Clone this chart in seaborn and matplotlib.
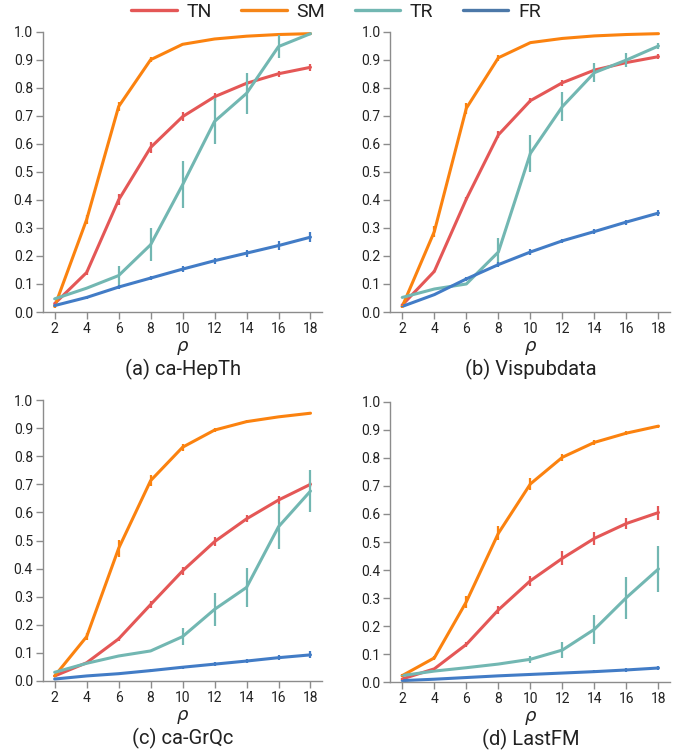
import numpy as np
import pandas as pd
import matplotlib
matplotlib.use("Agg")
import matplotlib.pyplot as plt
from matplotlib.lines import Line2D
import seaborn as sns

sns.set_theme(style="white")
plt.rcParams['font.family'] = ['Roboto', 'DejaVu Sans']

rho = [2, 4, 6, 8, 10, 12, 14, 16, 18]
methods = ["TN", "SM", "TR", "FR"]
colors = {"TN": "#e45756", "SM": "#fb820f", "TR": "#72b7b2", "FR": "#427cc6"}
legend_colors = {"TN": "#e45756", "SM": "#f58518", "TR": "#72b7b2", "FR": "#4c78a8"}
titles = ["(a) ca-HepTh", "(b) Vispubdata", "(c) ca-GrQc", "(d) LastFM"]
xlabel = "ρ"

# panel (a) ca-HepTh
a_TN = [0.03, 0.141, 0.40, 0.587, 0.697, 0.768, 0.816, 0.85, 0.873]
a_TN_err = [0.005, 0.008, 0.02, 0.02, 0.015, 0.015, 0.008, 0.01, 0.012]
a_SM = [0.02, 0.33, 0.733, 0.90, 0.955, 0.974, 0.984, 0.99, 0.993]
a_SM_err = [0.005, 0.015, 0.015, 0.008, 0.004, 0.003, 0.003, 0.002, 0.002]
a_TR = [0.047, 0.085, 0.13, 0.24, 0.454, 0.68, 0.78, 0.947, 0.993]
a_TR_err = [0.003, 0.003, 0.033, 0.058, 0.083, 0.082, 0.072, 0.04, 0.003]
a_FR = [0.023, 0.052, 0.089, 0.121, 0.153, 0.183, 0.21, 0.237, 0.267]
a_FR_err = [0.004, 0.004, 0.006, 0.008, 0.01, 0.01, 0.012, 0.015, 0.018]

# panel (b) Vispubdata
b_TN = [0.025, 0.145, 0.403, 0.632, 0.754, 0.818, 0.863, 0.89, 0.911]
b_TN_err = [0.004, 0.005, 0.008, 0.012, 0.01, 0.01, 0.006, 0.006, 0.008]
b_SM = [0.02, 0.287, 0.727, 0.907, 0.961, 0.976, 0.985, 0.99, 0.993]
b_SM_err = [0.004, 0.02, 0.02, 0.01, 0.004, 0.003, 0.002, 0.002, 0.002]
b_TR = [0.052, 0.082, 0.10, 0.214, 0.566, 0.733, 0.854, 0.899, 0.949]
b_TR_err = [0.003, 0.003, 0.004, 0.05, 0.066, 0.053, 0.035, 0.025, 0.012]
b_FR = [0.02, 0.062, 0.118, 0.169, 0.214, 0.254, 0.287, 0.321, 0.353]
b_FR_err = [0.003, 0.004, 0.008, 0.008, 0.01, 0.008, 0.008, 0.009, 0.012]

# panel (c) ca-GrQc
c_TN = [0.018, 0.065, 0.15, 0.272, 0.392, 0.496, 0.577, 0.644, 0.70]
c_TN_err = [0.004, 0.004, 0.008, 0.012, 0.015, 0.015, 0.012, 0.015, 0.008]
c_SM = [0.018, 0.158, 0.472, 0.713, 0.832, 0.893, 0.923, 0.94, 0.953]
c_SM_err = [0.004, 0.012, 0.03, 0.02, 0.012, 0.008, 0.005, 0.004, 0.004]
c_TR = [0.031, 0.063, 0.089, 0.107, 0.158, 0.255, 0.333, 0.549, 0.676]
c_TR_err = [0.003, 0.003, 0.003, 0.003, 0.03, 0.058, 0.07, 0.08, 0.075]
c_FR = [0.007, 0.018, 0.026, 0.037, 0.049, 0.06, 0.071, 0.083, 0.093]
c_FR_err = [0.002, 0.003, 0.003, 0.005, 0.006, 0.007, 0.008, 0.01, 0.012]

# panel (d) LastFM
d_TN = [0.012, 0.048, 0.135, 0.258, 0.362, 0.442, 0.513, 0.566, 0.605]
d_TN_err = [0.003, 0.004, 0.01, 0.015, 0.018, 0.025, 0.022, 0.02, 0.025]
d_SM = [0.024, 0.087, 0.287, 0.531, 0.707, 0.802, 0.855, 0.888, 0.913]
d_SM_err = [0.004, 0.006, 0.022, 0.025, 0.02, 0.012, 0.008, 0.006, 0.005]
d_TR = [0.024, 0.04, 0.052, 0.065, 0.082, 0.115, 0.189, 0.302, 0.404]
d_TR_err = [0.002, 0.002, 0.002, 0.003, 0.012, 0.03, 0.052, 0.075, 0.082]
d_FR = [0.006, 0.011, 0.017, 0.023, 0.028, 0.033, 0.038, 0.044, 0.051]
d_FR_err = [0.002, 0.002, 0.002, 0.003, 0.004, 0.004, 0.005, 0.006, 0.007]

panels = [
    {"TN": (a_TN, a_TN_err), "SM": (a_SM, a_SM_err), "TR": (a_TR, a_TR_err), "FR": (a_FR, a_FR_err)},
    {"TN": (b_TN, b_TN_err), "SM": (b_SM, b_SM_err), "TR": (b_TR, b_TR_err), "FR": (b_FR, b_FR_err)},
    {"TN": (c_TN, c_TN_err), "SM": (c_SM, c_SM_err), "TR": (c_TR, c_TR_err), "FR": (c_FR, c_FR_err)},
    {"TN": (d_TN, d_TN_err), "SM": (d_SM, d_SM_err), "TR": (d_TR, d_TR_err), "FR": (d_FR, d_FR_err)},
]

W, H = 694, 751
fig = plt.figure(figsize=(W / 100, H / 100), dpi=100)

# axes boxes in pixels: left, top, right, bottom
boxes = [(42.7, 31.7, 322, 312), (390.3, 31.7, 670, 312),
         (42.7, 400, 322, 681), (390.3, 401.7, 670, 682.3)]

axis_gray = "#8c8c8c"
text_col = "#222222"

for i, (box, pdata, title) in enumerate(zip(boxes, panels, titles)):
    l, t, r, b = box
    ax = fig.add_axes([l / W, 1 - b / H, (r - l) / W, (b - t) / H])
    rows = []
    for m in methods:
        vals, errs = pdata[m]
        for x, v, e in zip(rho, vals, errs):
            rows.append({"rho": x, "value": v, "err": e, "method": m})
    df = pd.DataFrame(rows)
    sns.lineplot(data=df, x="rho", y="value", hue="method", hue_order=methods,
                 palette=colors, linewidth=2.2, legend=False, ax=ax, errorbar=None)
    for m in methods:
        sub = df[df.method == m]
        ax.vlines(sub.rho, sub.value - sub.err, sub.value + sub.err,
                  colors=colors[m], linewidth=1.6, zorder=3)
    ax.set_xlim(1.25, 18.72)
    ax.set_ylim(0, 1.0)
    ax.set_xticks(rho)
    ax.set_yticks(np.round(np.arange(0, 1.01, 0.1), 1))
    ax.set_yticklabels([f"{v:.1f}" for v in np.arange(0, 1.01, 0.1)])
    for s in ["top", "right"]:
        ax.spines[s].set_visible(False)
    for s in ["left", "bottom"]:
        ax.spines[s].set_color(axis_gray)
        ax.spines[s].set_linewidth(1.0)
    ax.tick_params(axis="both", which="major", direction="out", length=5, width=1.0,
                   color=axis_gray, labelsize=10, labelcolor=text_col, pad=2,
                   left=True, bottom=True)
    ax.set_xlabel("")
    ax.set_ylabel("")
    cx = ax.transData.transform((10, 0))[0] / W
    fig.text(cx, 1 - (b + 34) / H, xlabel, fontsize=13, color=text_col,
             family=["DejaVu Sans"], style="italic", ha="center", va="center")
    fig.text(cx, 1 - (b + 63) / H, title, fontsize=14.5, color=text_col,
             ha="center", va="baseline")
    ax.grid(False)

handles = [Line2D([0], [0], color=legend_colors[m], linewidth=2.4) for m in methods]
fig.legend(handles, methods, loc="center", bbox_to_anchor=(336 / W, 1 - 12 / H),
           ncol=4, frameon=False, fontsize=14, handlelength=2.35,
           columnspacing=1.5, handletextpad=0.5, labelcolor=text_col)

fig.savefig("out.png", dpi=100)
